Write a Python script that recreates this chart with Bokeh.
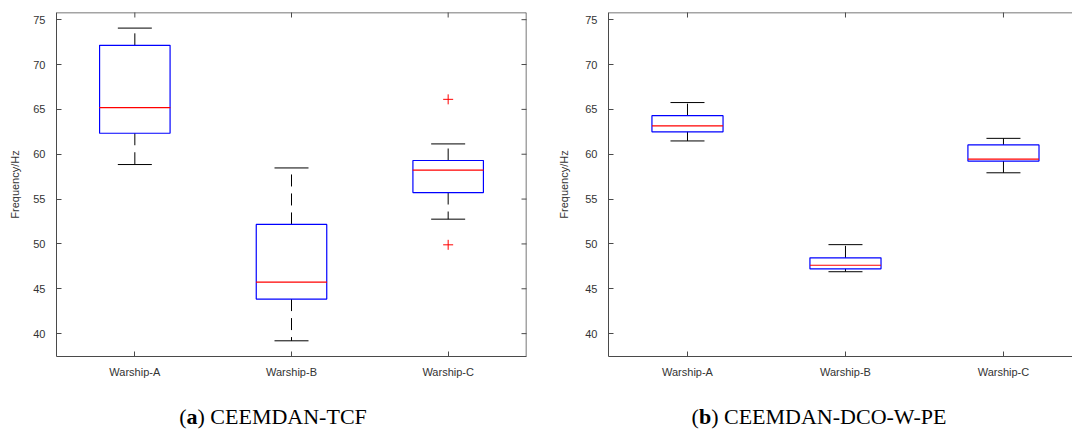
import numpy as np
from bokeh.plotting import figure
from bokeh.models import Range1d, FixedTicker, Div
from bokeh.layouts import row, column
from bokeh.embed import file_html
from bokeh.resources import INLINE

# ---------------- data ----------------
categories = ["Warship-A", "Warship-B", "Warship-C"]
y_ticks = [40, 45, 50, 55, 60, 65, 70, 75]

# (a) CEEMDAN-TCF
tcf_upper = [74.06, 58.47, 61.15]
tcf_q3 = [72.14, 52.17, 59.30]
tcf_median = [65.20, 45.75, 58.22]
tcf_q1 = [62.34, 43.85, 55.73]
tcf_lower = [58.85, 39.20, 52.76]
tcf_outlier_cat = ["Warship-C", "Warship-C"]
tcf_outlier_val = [66.12, 49.90]

# (b) CEEMDAN-DCO-W-PE
dco_upper = [65.76, 49.92, 61.77]
dco_q3 = [64.30, 48.45, 61.04]
dco_median = [63.15, 47.62, 59.46]
dco_q1 = [62.50, 47.22, 59.24]
dco_lower = [61.48, 46.90, 57.93]
dco_outlier_cat = []
dco_outlier_val = []

captions = ["(<b>a</b>) CEEMDAN-TCF", "(<b>b</b>) CEEMDAN-DCO-W-PE"]

AX = "#4a4a4a"
TXT = "#333333"
FONT = "Liberation Sans"
Y_START, Y_END = 37.45, 75.8


def style_axis(ax):
    ax.axis_line_color = AX
    ax.major_tick_line_color = AX
    ax.major_tick_in = 5
    ax.major_tick_out = 0
    ax.minor_tick_line_color = None
    ax.major_label_text_font = FONT
    ax.major_label_text_font_size = "11px"
    ax.major_label_text_color = TXT


def make_panel(upper, q3, med, q1, lower, out_cat, out_val, x_end,
               border_left, border_right, border_top, border_bottom,
               ylabel_standoff, right_side):
    x = [categories.index(c) + 1 for c in categories]
    p = figure(width=536, height=385, output_backend="svg", toolbar_location=None,
               x_range=Range1d(0.5, x_end), y_range=Range1d(Y_START, Y_END),
               min_border_left=border_left, min_border_right=border_right,
               min_border_top=border_top, min_border_bottom=border_bottom)
    p.xgrid.visible = False
    p.ygrid.visible = False
    p.outline_line_color = None
    p.background_fill_color = "white"
    p.border_fill_color = "white"

    # axes
    xa = p.xaxis[0]
    xa.ticker = FixedTicker(ticks=x)
    xa.major_label_overrides = {xi: c for xi, c in zip(x, categories)}
    style_axis(xa)
    xa.major_label_standoff = 9
    ya = p.yaxis[0]
    ya.ticker = FixedTicker(ticks=y_ticks)
    style_axis(ya)
    ya.major_label_standoff = 11
    ya.axis_label = "Frequency/Hz"
    ya.axis_label_text_font = FONT
    ya.axis_label_text_font_size = "11px"
    ya.axis_label_text_font_style = "normal"
    ya.axis_label_text_color = TXT
    ya.axis_label_standoff = ylabel_standoff

    # top frame line with inward ticks (outer half of each tick is clipped)
    p.hspan(y=[Y_END], line_color=AX, line_width=1.5)
    p.scatter(x=x, y=[Y_END] * len(x), marker="dash", angle=np.pi / 2, size=10,
              line_color=AX, line_width=1)
    if right_side:
        p.vspan(x=[x_end], line_color=AX, line_width=1.5)
        p.scatter(x=[x_end] * len(y_ticks), y=y_ticks, marker="dash", size=10,
                  line_color=AX, line_width=1)

    # whiskers (dashed, from box to cap)
    p.segment(x0=x, y0=q3, x1=x, y1=upper, line_color="black", line_width=1, line_dash="12 7")
    p.segment(x0=x, y0=q1, x1=x, y1=lower, line_color="black", line_width=1, line_dash="12 7")
    # caps
    p.scatter(x=x, y=upper, marker="dash", size=34, line_color="black", line_width=1)
    p.scatter(x=x, y=lower, marker="dash", size=34, line_color="black", line_width=1)
    # boxes
    p.vbar(x=x, width=0.45, bottom=q1, top=q3, fill_color=None,
           line_color="#0000ff", line_width=1.2)
    # medians
    p.scatter(x=x, y=med, marker="dash", size=71, line_color="#ff0000", line_width=1.2)
    # outliers
    if out_cat:
        ox = [categories.index(c) + 1 for c in out_cat]
        p.scatter(x=ox, y=out_val, marker="cross", size=10, line_color="#ff0000", line_width=1)
    return p


p1 = make_panel(tcf_upper, tcf_q3, tcf_median, tcf_q1, tcf_lower,
                tcf_outlier_cat, tcf_outlier_val, 3.5,
                56, 10, 12, 29, 9, True)
p2 = make_panel(dco_upper, dco_q3, dco_median, dco_q1, dco_lower,
                dco_outlier_cat, dco_outlier_val, 3.437,
                72, 0, 8, 25, 12, False)

cap_style = ("font-family:'Liberation Serif';font-size:22px;color:#000;"
             "white-space:nowrap;text-align:center;padding-top:11px;")
d1 = Div(text=f'<div style="{cap_style}width:536px;">{captions[0]}</div>',
         width=536, height=56)
d2 = Div(text=f'<div style="{cap_style}width:504px;padding-left:32px;">{captions[1]}</div>',
         width=536, height=56)

layout = column(row(p1, p2, spacing=0), row(d1, d2, spacing=0), spacing=0)

with open("out.html", "w") as f:
    f.write(file_html(layout, INLINE))
